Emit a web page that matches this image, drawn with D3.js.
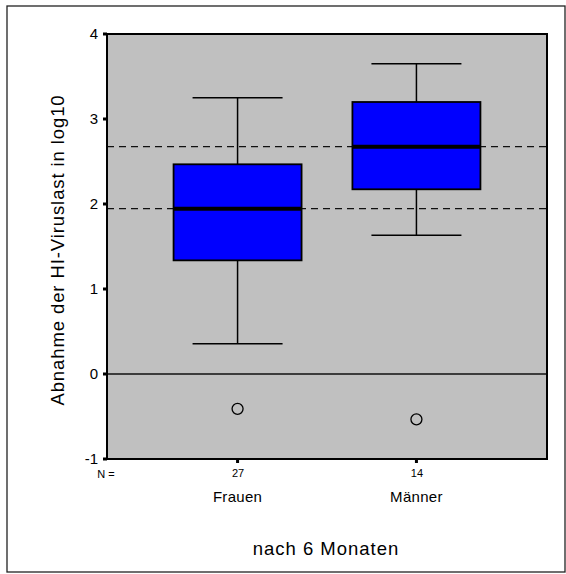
<!DOCTYPE html>
<html><head><meta charset="utf-8">
<script src="https://cdn.jsdelivr.net/npm/d3@7"></script>
<style>body{margin:0;background:#fff;} svg{display:block;font-family:Arial,"Liberation Sans",sans-serif;}</style>
</head><body>
<script>
const categories = ["Frauen", "Männer"];
const counts = [27, 14];
const whiskerLow = [0.357, 1.632];
const q1 = [1.337, 2.173];
const median = [1.945, 2.674];
const q3 = [2.467, 3.2];
const whiskerHigh = [3.25, 3.65];
const outliers = [[-0.41], [-0.533]];
const yTicks = [-1, 0, 1, 2, 3, 4];

const W = 566, H = 574;
const svg = d3.select("body").append("svg").attr("width", W).attr("height", H);

svg.append("rect").attr("x", 7).attr("y", 6).attr("width", 558).attr("height", 566)
  .attr("fill", "none").attr("stroke", "#222").attr("stroke-width", 1.3);

const L = 107, R = 547, T = 34, B = 459;
const y = d3.scaleLinear().domain([-1, 4]).range([B, T]);
const x = d3.scalePoint().domain(categories).range([L, R]).padding(0.73);

svg.append("rect").attr("x", L).attr("y", T).attr("width", R - L).attr("height", B - T)
  .attr("fill", "#c0c0c0");

// dashed median reference lines
svg.selectAll(".ref").data(median).enter().append("line")
  .attr("x1", L).attr("x2", R).attr("y1", d => y(d)).attr("y2", d => y(d))
  .attr("stroke", "#111").attr("stroke-width", 1.3).attr("stroke-dasharray", "7,5");

// zero line
svg.append("line").attr("x1", L).attr("x2", R).attr("y1", y(0)).attr("y2", y(0))
  .attr("stroke", "#111").attr("stroke-width", 1.5);

const boxW = 128, capW = 90;
const g = svg.selectAll(".bx").data(categories).enter().append("g");
g.append("line").attr("x1", d => x(d)).attr("x2", d => x(d))
  .attr("y1", (d, i) => y(whiskerLow[i])).attr("y2", (d, i) => y(whiskerHigh[i]))
  .attr("stroke", "#000").attr("stroke-width", 1.5);
g.append("line").attr("x1", d => x(d) - capW / 2).attr("x2", d => x(d) + capW / 2)
  .attr("y1", (d, i) => y(whiskerHigh[i])).attr("y2", (d, i) => y(whiskerHigh[i]))
  .attr("stroke", "#000").attr("stroke-width", 1.5);
g.append("line").attr("x1", d => x(d) - capW / 2).attr("x2", d => x(d) + capW / 2)
  .attr("y1", (d, i) => y(whiskerLow[i])).attr("y2", (d, i) => y(whiskerLow[i]))
  .attr("stroke", "#000").attr("stroke-width", 1.5);
g.append("rect").attr("x", d => x(d) - boxW / 2).attr("width", boxW)
  .attr("y", (d, i) => y(q3[i])).attr("height", (d, i) => y(q1[i]) - y(q3[i]))
  .attr("fill", "#0000ff").attr("stroke", "#000").attr("stroke-width", 1.8);
g.append("line").attr("x1", d => x(d) - boxW / 2).attr("x2", d => x(d) + boxW / 2)
  .attr("y1", (d, i) => y(median[i])).attr("y2", (d, i) => y(median[i]))
  .attr("stroke", "#000").attr("stroke-width", 4);
g.each(function (d, i) {
  d3.select(this).selectAll("circle").data(outliers[i]).enter().append("circle")
    .attr("cx", x(d)).attr("cy", v => y(v)).attr("r", 5.5)
    .attr("fill", "none").attr("stroke", "#000").attr("stroke-width", 1.3);
});

// plot border
svg.append("rect").attr("x", L).attr("y", T).attr("width", R - L).attr("height", B - T)
  .attr("fill", "none").attr("stroke", "#000").attr("stroke-width", 2);

// y axis
const yAxis = svg.append("g").attr("transform", `translate(${L},0)`)
  .call(d3.axisLeft(y).tickValues(yTicks).tickSize(0).tickPadding(9).tickFormat(d => String(d)));
yAxis.select(".domain").remove();
yAxis.selectAll("text").attr("font-size", 15).attr("fill", "#000").attr("font-family", "Arial,'Liberation Sans',sans-serif");
svg.selectAll(".yt").data(yTicks).enter().append("rect")
  .attr("x", L - 4).attr("y", d => y(d) - 1.5).attr("width", 4).attr("height", 3).attr("fill", "#000");

// x ticks
svg.selectAll(".xt").data(categories).enter().append("rect")
  .attr("x", d => x(d) - 1.5).attr("y", B).attr("width", 3).attr("height", 4).attr("fill", "#000");

const xAxis = svg.append("g").attr("transform", `translate(0,${B})`)
  .call(d3.axisBottom(x).tickSize(0).tickPadding(10).tickFormat((d, i) => counts[i]));
xAxis.select(".domain").remove();
xAxis.selectAll("text").attr("font-size", 11).attr("fill", "#000").attr("font-family", "Arial,'Liberation Sans',sans-serif");

svg.append("text").attr("x", 106).attr("y", 478).attr("text-anchor", "middle")
  .attr("font-size", 11).text("N =");

svg.selectAll(".cat").data(categories).enter().append("text")
  .attr("x", d => x(d)).attr("y", 502).attr("text-anchor", "middle")
  .attr("font-size", 15).attr("letter-spacing", 0.3).text(d => d);

svg.append("text").attr("x", 326).attr("y", 555).attr("text-anchor", "middle")
  .attr("font-size", 18.5).attr("letter-spacing", 1).text("nach 6 Monaten");

svg.append("text").attr("transform", `translate(64,${(95 + 405) / 2}) rotate(-90)`)
  .attr("text-anchor", "middle").attr("font-size", 18.5).attr("letter-spacing", 0.9)
  .text("Abnahme der HI-Viruslast in log10");
</script>
</body></html>
